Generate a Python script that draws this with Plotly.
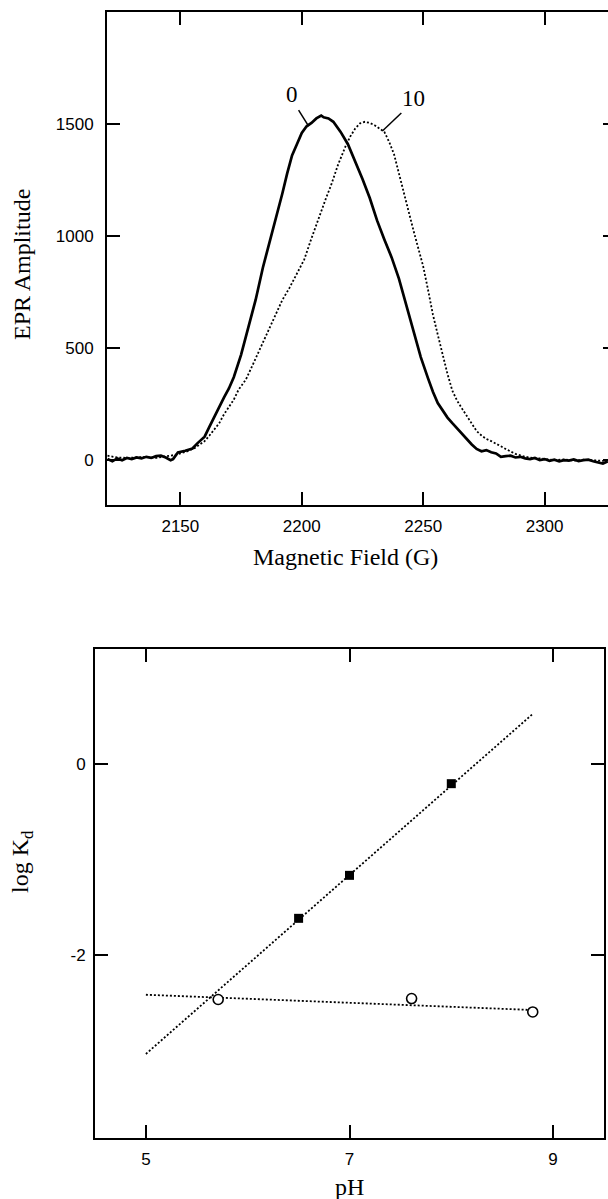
import plotly.graph_objects as go

# ---------------- data: EPR spectra ----------------
field_0 = [2120, 2122, 2124, 2126, 2128, 2130, 2132, 2134, 2136, 2138, 2140, 2142, 2144, 2146,
           2147, 2149, 2152, 2155, 2157, 2160, 2162, 2164, 2166, 2168, 2170, 2172, 2175, 2178,
           2181, 2184, 2186, 2188, 2190, 2192, 2194, 2196, 2198, 2200, 2202, 2204, 2206, 2208,
           2209, 2211, 2213, 2216, 2219, 2222, 2225, 2228, 2231, 2234, 2237, 2240, 2243, 2246,
           2249, 2252, 2254, 2256, 2258, 2260, 2262, 2264, 2266, 2268, 2270, 2272, 2274, 2276,
           2278, 2280, 2282, 2284, 2286, 2288, 2290, 2292, 2294, 2296, 2298, 2300, 2302, 2304,
           2306, 2308, 2310, 2312, 2314, 2316, 2318, 2320, 2322, 2324, 2326]
amp_0 = [5, -5, 8, 0, 10, 5, 12, 8, 15, 10, 18, 20, 12, 0,
         5, 35, 42, 52, 75, 105, 150, 195, 240, 280, 320, 370, 470, 590,
         715, 860, 940, 1020, 1105, 1190, 1280, 1360, 1410, 1460, 1490, 1505, 1525, 1538,
         1530, 1525, 1510, 1465, 1410, 1335, 1255, 1170, 1070, 985, 905, 810, 690, 570,
         460, 365, 305, 255, 220, 190, 165, 140, 115, 95, 70, 50, 40, 45,
         35, 30, 15, 18, 20, 12, 15, 8, 5, 10, 0, 5, -3, 2,
         -5, 0, -2, 3, -4, 0, 2, -5, -10, -15, -5]

field_10 = [2120, 2124, 2128, 2132, 2136, 2140, 2144, 2147, 2150, 2153, 2156, 2158, 2160, 2162,
            2164, 2166, 2168, 2170, 2172, 2174, 2177, 2180, 2183, 2186, 2189, 2192, 2195, 2198,
            2201, 2204, 2207, 2210, 2212, 2215, 2218, 2220, 2222, 2224, 2226, 2228, 2230, 2232,
            2234, 2236, 2238, 2240, 2242, 2244, 2246, 2248, 2250, 2252, 2254, 2256, 2258, 2260,
            2262, 2264, 2266, 2268, 2270, 2272, 2274, 2276, 2278, 2280, 2282, 2284, 2286, 2288,
            2290, 2292, 2294, 2296, 2298, 2300, 2304, 2308, 2312, 2316, 2320, 2324, 2326]
amp_10 = [20, 12, 10, 12, 15, 10, 15, 22, 30, 40, 55, 70, 85, 110,
          140, 165, 205, 240, 270, 315, 360, 430, 500, 570, 640, 715, 770, 830,
          895, 990, 1085, 1170, 1225, 1320, 1400, 1445, 1480, 1503, 1510, 1505, 1495, 1480,
          1465, 1420, 1365, 1280, 1190, 1110, 1025, 945, 865, 760, 650, 560, 470, 385,
          310, 265, 230, 195, 160, 130, 110, 95, 85, 75, 62, 50, 40, 28,
          22, 15, 12, 8, 8, 5, 0, 3, -2, 2, 0, -3, 0]

field_ticks = [2150, 2200, 2250, 2300]
amp_ticks = [0, 500, 1000, 1500]

# ---------------- data: log Kd vs pH ----------------
ph_sq = [6.5, 7.0, 8.0]
logkd_sq = [-1.62, -1.17, -0.21]
ph_circ = [5.71, 7.61, 8.80]
logkd_circ = [-2.47, -2.46, -2.60]
fit_sq_ph = [5.0, 8.8]
fit_sq_logkd = [-3.04, 0.52]
fit_circ_ph = [5.0, 8.8]
fit_circ_logkd = [-2.42, -2.58]
ph_ticks = [5, 7, 9]
logkd_ticks = [-2, 0]
logkd_ticktext = ["-2", "0"]

W, H = 608, 1199
SANS = "Liberation Sans, Arial, sans-serif"
SERIF = "Liberation Serif, Times New Roman, serif"

fig = go.Figure()

fig.add_trace(go.Scatter(x=field_0, y=amp_0, mode="lines",
                         line=dict(color="black", width=2.7), xaxis="x", yaxis="y",
                         showlegend=False, hoverinfo="skip"))
fig.add_trace(go.Scatter(x=field_10, y=amp_10, mode="lines",
                         line=dict(color="black", width=1.8, dash="2px,2px"),
                         xaxis="x", yaxis="y3", showlegend=False, hoverinfo="skip"))

fig.add_trace(go.Scatter(x=fit_sq_ph, y=fit_sq_logkd, mode="lines",
                         line=dict(color="black", width=1.8, dash="2px,2px"),
                         xaxis="x2", yaxis="y2", showlegend=False, hoverinfo="skip"))
fig.add_trace(go.Scatter(x=fit_circ_ph, y=fit_circ_logkd, mode="lines",
                         line=dict(color="black", width=1.8, dash="2px,2px"),
                         xaxis="x2", yaxis="y2", showlegend=False, hoverinfo="skip"))
fig.add_trace(go.Scatter(x=ph_sq, y=logkd_sq, mode="markers",
                         marker=dict(symbol="square", size=9, color="black"),
                         xaxis="x2", yaxis="y2", showlegend=False, hoverinfo="skip"))
fig.add_trace(go.Scatter(x=ph_circ, y=logkd_circ, mode="markers",
                         marker=dict(symbol="circle", size=10, color="white",
                                     line=dict(color="black", width=1.6)),
                         xaxis="x2", yaxis="y2", showlegend=False, hoverinfo="skip"))

def px_x(p):
    return p / W

def px_y(p):
    return 1 - p / H

axis_common = dict(showgrid=False, zeroline=False, ticks="inside", ticklen=13,
                   tickwidth=2, tickcolor="black", showline=True, linewidth=2,
                   linecolor="black", tickfont=dict(family=SANS, size=17, color="black"))

fig.update_layout(
    width=W, height=H,
    margin=dict(l=0, r=0, t=0, b=0),
    paper_bgcolor="white", plot_bgcolor="white",
    xaxis=dict(domain=[px_x(107), 1.0], range=[2119.8, 2326.1], anchor="y",
               tickvals=field_ticks, mirror="ticks", ticklabelstandoff=5, **axis_common),
    yaxis=dict(domain=[px_y(505), px_y(12)], range=[-200, 2000], anchor="x",
               tickvals=amp_ticks, mirror=False, ticklabelstandoff=8, **axis_common),
    yaxis3=dict(overlaying="y", side="right", anchor="free", position=1.0,
                range=[-200, 2000], tickvals=amp_ticks, showticklabels=False,
                showgrid=False, zeroline=False, showline=False, ticks="inside",
                ticklen=5, tickwidth=2, tickcolor="black"),
    xaxis2=dict(domain=[px_x(95), px_x(604)], range=[4.5, 9.5], anchor="y2",
                tickvals=ph_ticks, mirror="ticks", ticklabelstandoff=5, **axis_common),
    yaxis2=dict(domain=[px_y(1138), px_y(649)], range=[-3.92, 1.2], anchor="x2",
                tickvals=logkd_ticks, ticktext=logkd_ticktext, mirror="ticks",
                ticklabelstandoff=4, **axis_common),
)

ann = []
title_font = dict(family=SERIF, size=24, color="black")
ann.append(dict(text="Magnetic Field (G)", x=px_x(345), y=px_y(557), xref="paper", yref="paper",
                showarrow=False, font=title_font, xanchor="center", yanchor="middle"))
ann.append(dict(text="EPR Amplitude", x=px_x(22), y=px_y(265), xref="paper", yref="paper",
                showarrow=False, font=title_font, textangle=-90, xanchor="center", yanchor="middle"))
ann.append(dict(text="pH", x=px_x(349), y=px_y(1187), xref="paper", yref="paper",
                showarrow=False, font=title_font, xanchor="center", yanchor="middle"))
ann.append(dict(text="log K<sub>d</sub>", x=px_x(22), y=px_y(862), xref="paper", yref="paper",
                showarrow=False, font=title_font, textangle=-90, xanchor="center", yanchor="middle"))
# curve labels
ann.append(dict(text="0", x=2195.8, y=1630, xref="x", yref="y", showarrow=False,
                font=dict(family=SERIF, size=23, color="black")))
ann.append(dict(text="10", x=2246, y=1616, xref="x", yref="y", showarrow=False,
                font=dict(family=SERIF, size=23, color="black")))
fig.update_layout(annotations=ann)

fig.add_shape(type="line", x0=2198.7, y0=1562, x1=2202.8, y1=1491, xref="x", yref="y",
              line=dict(color="black", width=1.5))
fig.add_shape(type="line", x0=2241, y0=1549, x1=2233.2, y1=1469, xref="x", yref="y",
              line=dict(color="black", width=1.5))

fig.write_html("out.html", config={"displayModeBar": False},
               post_script="document.body.style.margin='0';document.body.style.overflow='hidden';")
